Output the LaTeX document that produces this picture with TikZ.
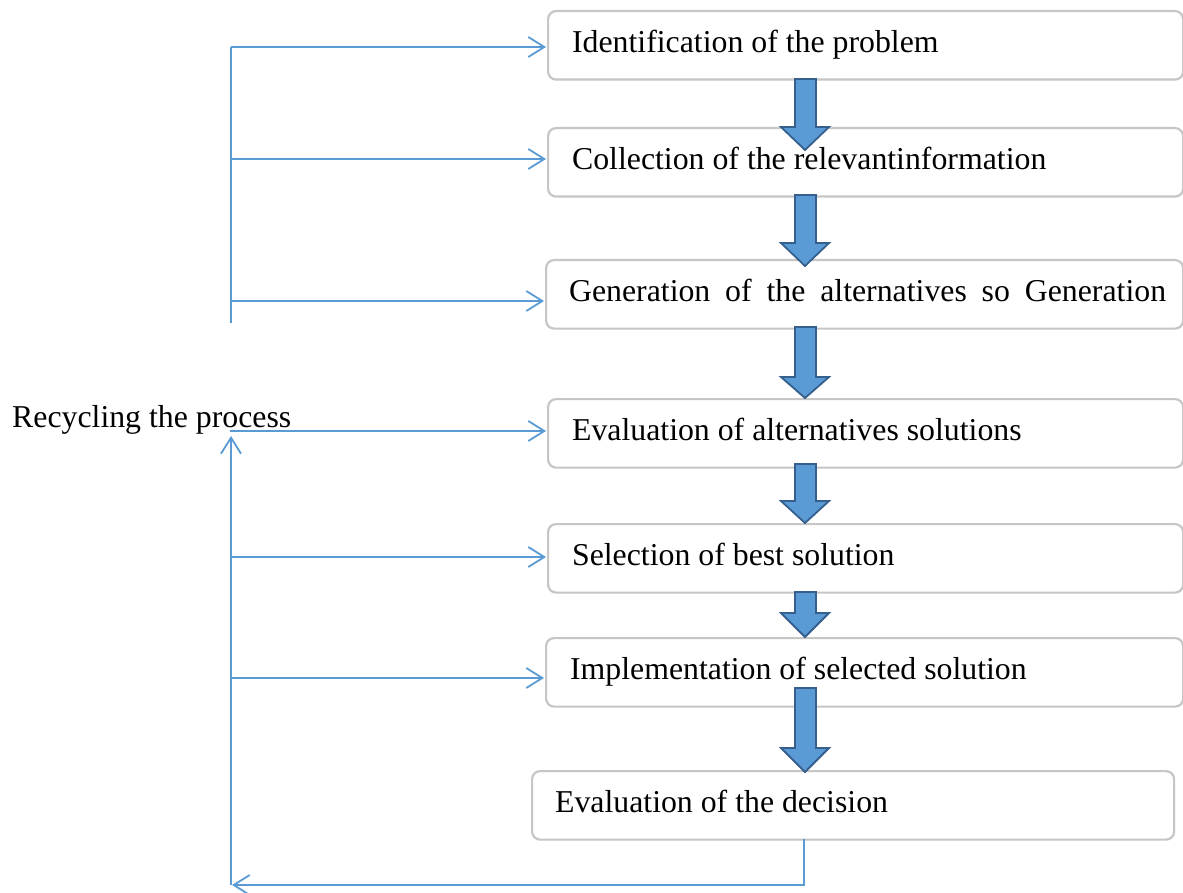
\documentclass[tikz,border=0pt]{standalone}
\usepackage{fontspec}
\setmainfont{Liberation Serif}
\usetikzlibrary{arrows.meta}
\definecolor{linkblue}{HTML}{5B9BD5}
\definecolor{arrowedge}{HTML}{355F8C}
\definecolor{boxgray}{HTML}{C6C6C6}
\newcommand\txtsize{\fontsize{31.8}{38}\selectfont}
\newcommand\blockarr[3]{\draw[barrow] (795,#1) -- (816,#1) -- (816,#2) -- (829,#2) -- (805,#3) -- (781,#2) -- (795,#2) -- cycle;}
\begin{document}
\begin{tikzpicture}[x=1pt,y=-1pt,
  stepbox/.style={draw=boxgray, line width=2.2pt, rounded corners=8pt, fill=white,
    inner sep=0pt, minimum height=68.5pt, anchor=north west, text height=22pt,
    text depth=7pt, font=\txtsize},
  conn/.style={draw=linkblue, line width=1.8pt, shorten >=1pt,
    -{Straight Barb[length=16pt,width=20pt,line width=1.8pt]}},
  plainline/.style={draw=linkblue, line width=1.8pt},
  barrow/.style={fill=linkblue, draw=arrowedge, line width=1.8pt, line join=miter}]
\useasboundingbox (0,0) rectangle (1183,893);
\fill[white] (0,0) rectangle (1183,893);

% boxes
\node[stepbox] (b1) at (547,10)  {\makebox[635pt][l]{\hspace{24pt}Identification of the problem}};
\node[stepbox] (b2) at (547,127) {\makebox[635pt][l]{\hspace{24pt}Collection of the relevantinformation}};
\node[stepbox] (b3) at (545,259) {\makebox[637pt][l]{\hspace{23pt}\makebox[597pt][s]{Generation of the alternatives so Generation}}};
\node[stepbox] (b4) at (547,398) {\makebox[635pt][l]{\hspace{24pt}Evaluation of alternatives solutions}};
\node[stepbox] (b5) at (547,523) {\makebox[635pt][l]{\hspace{24pt}Selection of best solution}};
\node[stepbox] (b6) at (545,637) {\makebox[637pt][l]{\hspace{24pt}Implementation of selected solution}};
\node[stepbox] (b7) at (531,770) {\makebox[642pt][l]{\hspace{23pt}Evaluation of the decision}};

\node[font=\txtsize, anchor=base west, inner sep=0pt] (recyc) at (12,427) {Recycling the process};

% block arrows
\blockarr{79}{127}{150}
\blockarr{195}{243}{266}
\blockarr{327}{377}{398}
\blockarr{464}{501}{523}
\blockarr{592}{613}{637}
\blockarr{688}{748}{772}

% upper feedback spine
\coordinate (u1) at (231,47);
\coordinate (u2) at (231,159);
\coordinate (u3) at (231,301);
\coordinate (uend) at (231,323);
\draw[plainline] (u1) -- (uend);
\draw[conn] (u1) -- (u1 -| b1.west);
\draw[conn] (u2) -- (u2 -| b2.west);
\draw[conn] (u3) -- (u3 -| b3.west);

% lower feedback spine
\coordinate (l1) at (230,431);
\coordinate (l2) at (231,557);
\coordinate (l3) at (231,678);
\coordinate (lup) at (231,435);
\coordinate (lbot) at (231,885);
\coordinate (b7out) at (804,839);
\coordinate (bcorner) at (804,885);
\draw[conn] (l1) -- (l1 -| b4.west);
\draw[conn] (l2) -- (l2 -| b5.west);
\draw[conn] (l3) -- (l3 -| b6.west);
\draw[conn] (lbot) -- (lup);
\draw[conn] (b7out) -- (bcorner) -- (lbot);
\end{tikzpicture}
\end{document}
